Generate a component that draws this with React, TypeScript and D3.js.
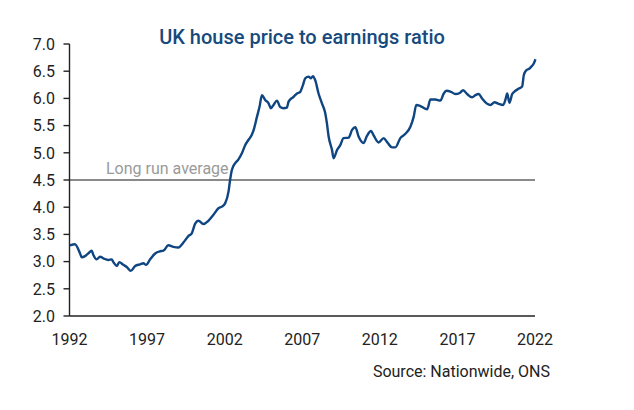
import React from 'react';
import * as d3 from 'd3';

// decimal years
const years = [
  1992.03, 1992.35, 1992.68, 1992.79, 1993.0, 1993.21, 1993.43, 1993.54, 1993.75, 1993.97,
  1994.18, 1994.5, 1994.72, 1994.83, 1995.05, 1995.21, 1995.47, 1995.69, 1995.95, 1996.23,
  1996.55, 1996.76, 1996.94, 1997.19, 1997.52, 1997.84, 1998.05, 1998.37, 1998.7, 1999.02,
  1999.34, 1999.66, 1999.88, 2000.1, 2000.31, 2000.63, 2000.95, 2001.28, 2001.6, 2001.82,
  2002.03, 2002.25, 2002.35, 2002.46, 2002.68, 2002.89, 2003.11, 2003.32, 2003.54, 2003.75,
  2003.9, 2004.08, 2004.25, 2004.4, 2004.61, 2004.83, 2004.98, 2005.15, 2005.37, 2005.58,
  2005.79, 2006.01, 2006.12, 2006.44, 2006.66, 2006.87, 2007.05, 2007.19, 2007.41, 2007.56,
  2007.69, 2007.84, 2008.05, 2008.27, 2008.48, 2008.59, 2008.7, 2008.92, 2009.02, 2009.24,
  2009.45, 2009.66, 2009.99, 2010.21, 2010.42, 2010.63, 2010.95, 2011.17, 2011.43, 2011.6,
  2011.92, 2012.25, 2012.46, 2012.79, 2013.0, 2013.32, 2013.65, 2013.97, 2014.18, 2014.35,
  2014.61, 2015.05, 2015.26, 2015.58, 2015.9, 2016.12, 2016.29, 2016.59, 2016.87, 2017.15,
  2017.37, 2017.63, 2017.95, 2018.16, 2018.37, 2018.59, 2018.92, 2019.13, 2019.39, 2019.66,
  2019.95, 2020.1, 2020.21, 2020.35, 2020.53, 2020.74, 2020.96, 2021.17, 2021.28, 2021.45,
  2021.6, 2021.75, 2021.92, 2022.03,
];

// house price to earnings ratio
const ratio = [
  3.3, 3.32, 3.15, 3.08, 3.1, 3.15, 3.2, 3.12, 3.04, 3.09,
  3.06, 3.03, 3.04, 2.99, 2.92, 2.99, 2.94, 2.9, 2.83, 2.92,
  2.95, 2.97, 2.94, 3.04, 3.15, 3.19, 3.2, 3.3, 3.27, 3.26,
  3.35, 3.47, 3.52, 3.7, 3.75, 3.69, 3.75, 3.86, 3.98, 4.01,
  4.07, 4.29, 4.5, 4.68, 4.81, 4.88, 4.99, 5.14, 5.24, 5.33,
  5.45, 5.66, 5.85, 6.06, 5.97, 5.91, 5.82, 5.88, 5.96, 5.84,
  5.82, 5.83, 5.94, 6.03, 6.09, 6.12, 6.25, 6.37, 6.4, 6.37,
  6.41, 6.33, 6.09, 5.91, 5.73, 5.54, 5.3, 5.05, 4.9, 5.05,
  5.14, 5.27, 5.28, 5.42, 5.47, 5.3, 5.18, 5.31, 5.4, 5.32,
  5.19, 5.27, 5.2, 5.1, 5.1, 5.27, 5.35, 5.48, 5.66, 5.88,
  5.86, 5.8, 5.98, 5.98, 5.96, 6.09, 6.14, 6.12, 6.08, 6.1,
  6.15, 6.08, 6.02, 6.06, 6.08, 6.0, 5.9, 5.88, 5.93, 5.9,
  5.88, 5.98, 6.09, 5.92, 6.08, 6.14, 6.18, 6.22, 6.43, 6.52,
  6.54, 6.58, 6.64, 6.72,
];

const xTicks = [1992, 1997, 2002, 2007, 2012, 2017, 2022];
const yTicks = [2.0, 2.5, 3.0, 3.5, 4.0, 4.5, 5.0, 5.5, 6.0, 6.5, 7.0];
const longRunAverage = 4.5;

const title = 'UK house price to earnings ratio';
const averageLabel = 'Long run average';
const source = 'Source: Nationwide, ONS';

const W = 634;
const H = 410;
const FONT = '"Liberation Sans Narrow", "Roboto", sans-serif';

export default function App() {
  const x = d3.scaleLinear().domain([1992, 2022]).range([69.5, 535]);
  const y = d3.scaleLinear().domain([2, 7]).range([316, 44]);

  const points = years.map((yr, i) => ({ yr, v: ratio[i] }));
  const line = d3.line<{ yr: number; v: number }>()
    .x(d => x(d.yr))
    .y(d => y(d.v))
    .curve(d3.curveMonotoneX);

  return (
    <svg width={W} height={H} style={{ position: 'absolute', left: 0, top: 0, background: '#fff' }}
      fontFamily={FONT}>
      <rect width={W} height={H} fill="#fff" />

      <text x={302} y={44} textAnchor="middle" fontSize={20} fontWeight={500} fill="#174a7c">
        {title}
      </text>

      {/* long run average */}
      <line x1={x(1992)} x2={x(2022)} y1={y(longRunAverage)} y2={y(longRunAverage)}
        stroke="#8a8a8a" strokeWidth={1.8} />
      <text x={106} y={y(longRunAverage) - 6} fontSize={16} fill="#9a9a9a">{averageLabel}</text>

      {/* y axis */}
      <line x1={x(1992)} x2={x(1992)} y1={y(7)} y2={y(2)} stroke="#222" strokeWidth={1.4} />
      {yTicks.map(t => (
        <g key={t}>
          <line x1={x(1992) - 6} x2={x(1992)} y1={y(t)} y2={y(t)} stroke="#222" strokeWidth={1.4} />
          <text x={55} y={y(t)} dy="0.36em" textAnchor="end" fontSize={16} fill="#222">
            {d3.format('.1f')(t)}
          </text>
        </g>
      ))}

      {/* x axis */}
      <line x1={x(1992)} x2={x(2022)} y1={y(2)} y2={y(2)} stroke="#222" strokeWidth={1.4} />
      {xTicks.map(t => (
        <text key={t} x={x(t)} y={345} textAnchor="middle" fontSize={16} fill="#222">{t}</text>
      ))}

      <path d={line(points) ?? ''} fill="none" stroke="#0f4581" strokeWidth={2.4}
        strokeLinejoin="round" />

      <text x={550} y={377} textAnchor="end" fontSize={16} fill="#222">{source}</text>
    </svg>
  );
}
